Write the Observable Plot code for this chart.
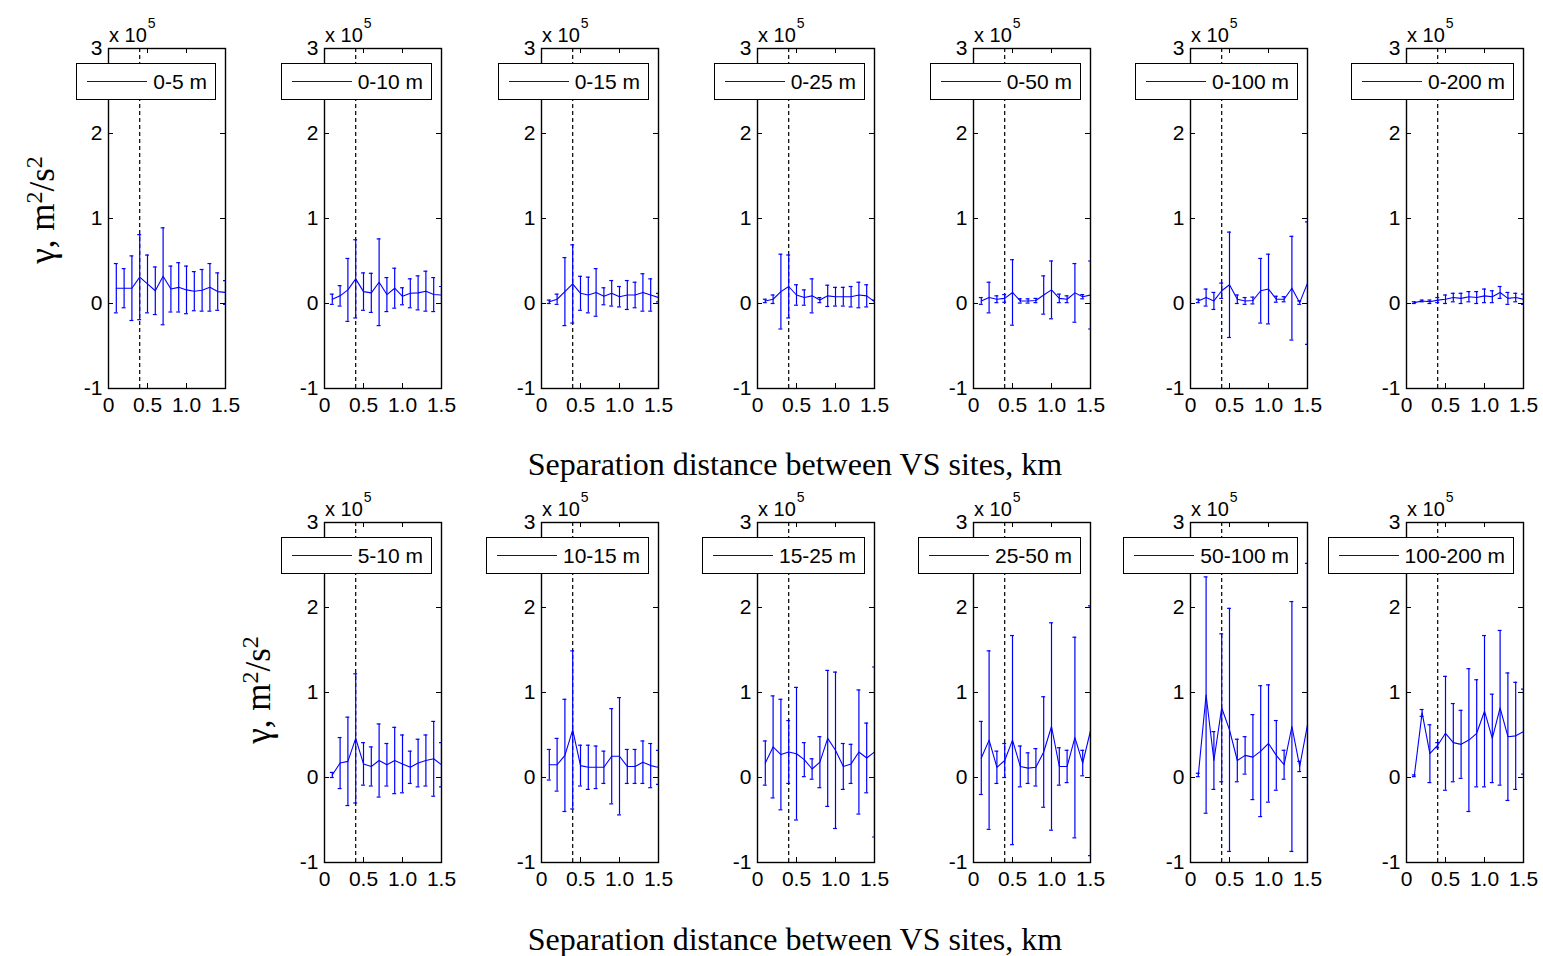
<!DOCTYPE html>
<html>
<head>
<meta charset="utf-8">
<script src="https://cdn.jsdelivr.net/npm/d3@7"></script>
<script src="https://cdn.jsdelivr.net/npm/@observablehq/plot@0.6"></script>
<style>
  body { margin: 0; background: #fff; }
  #chart { position: relative; width: 1543px; height: 956px; overflow: hidden; background: #fff;
           font-family: "Liberation Sans", Arial, sans-serif; color: #000; }
  .panel { position: absolute; }
  .legend { position: absolute; box-sizing: border-box; height: 37px; display: flex; align-items: center;
            background: #fff; border: 1.5px solid #000; padding: 0 8px 0 10px; font-size: 21px; white-space: nowrap; }
  .legend .swatch { display: inline-block; width: 60px; height: 0; border-top: 1.5px solid #0000ff; margin-right: 6px; }
  .exp { position: absolute; font-size: 20px; line-height: 1; white-space: nowrap; }
  .exp sup { font-size: 14px; position: relative; top: -6px; margin-left: 1px; }
  .ytitle { position: absolute; font-family: "Liberation Serif", "Times New Roman", serif; font-size: 35px;
            white-space: nowrap; transform: translate(-50%, -50%) rotate(-90deg); }
  .ytitle sup { font-size: 24px; }
  .xtitle { position: absolute; font-family: "Liberation Serif", "Times New Roman", serif; font-size: 32px;
            white-space: nowrap; transform: translate(-50%, -50%); }
</style>
</head>
<body>
<div id="chart"></div>
<script>
// Separation distances (km) at which the semivariogram is evaluated
const separationKm = [0.1, 0.2, 0.3, 0.4, 0.5, 0.6, 0.7, 0.8, 0.9, 1.0, 1.1, 1.2, 1.3, 1.4, 1.5];
const xTicks = [0, 0.5, 1.0, 1.5];
const yTicks = [-1, 0, 1, 2, 3];
const markerKm = 0.4; // reference separation shown as a dashed line

// Depth-range labels
const topRanges = ["0-5 m", "0-10 m", "0-15 m", "0-25 m", "0-50 m", "0-100 m", "0-200 m"];
const bottomRanges = ["5-10 m", "10-15 m", "15-25 m", "25-50 m", "50-100 m", "100-200 m"];

// Mean semivariance (x 10^5 m^2/s^2) and error-bar half widths per depth range
const gamma_0_5   = [0.18, 0.18, 0.18, 0.31, 0.23, 0.15, 0.32, 0.17, 0.19, 0.16, 0.145, 0.155, 0.19, 0.14, 0.13];
const err_0_5     = [0.29, 0.23, 0.38, 0.50, 0.34, 0.28, 0.57, 0.27, 0.29, 0.28, 0.23, 0.245, 0.28, 0.22, 0.14];
const gamma_0_10  = [0.05, 0.09, 0.16, 0.29, 0.14, 0.125, 0.25, 0.105, 0.18, 0.085, 0.12, 0.125, 0.145, 0.105, 0.10];
const err_0_10    = [0.06, 0.12, 0.37, 0.46, 0.22, 0.23, 0.51, 0.20, 0.235, 0.10, 0.17, 0.20, 0.235, 0.20, 0.10];
const gamma_0_15  = [0.02, 0.05, 0.14, 0.23, 0.12, 0.10, 0.13, 0.085, 0.12, 0.08, 0.10, 0.10, 0.13, 0.10, 0.07];
const err_0_15    = [0.02, 0.06, 0.40, 0.46, 0.20, 0.21, 0.28, 0.10, 0.15, 0.12, 0.17, 0.15, 0.22, 0.19, 0.05];
const gamma_0_25  = [0.03, 0.05, 0.14, 0.20, 0.10, 0.07, 0.09, 0.04, 0.09, 0.08, 0.08, 0.08, 0.10, 0.09, 0.02];
const err_0_25    = [0.02, 0.05, 0.44, 0.37, 0.12, 0.09, 0.20, 0.03, 0.125, 0.11, 0.11, 0.12, 0.15, 0.13, 0.02];
const gamma_0_50  = [0.03, 0.07, 0.05, 0.06, 0.13, 0.03, 0.03, 0.035, 0.10, 0.16, 0.06, 0.05, 0.125, 0.08, 0.10];
const err_0_50    = [0.04, 0.18, 0.04, 0.045, 0.385, 0.025, 0.025, 0.025, 0.225, 0.34, 0.05, 0.04, 0.345, 0.025, 0.40];
const gamma_0_100 = [0.03, 0.07, 0.03, 0.15, 0.22, 0.05, 0.03, 0.035, 0.15, 0.17, 0.05, 0.05, 0.18, 0.01, 0.24];
const err_0_100   = [0.02, 0.10, 0.10, 0.09, 0.62, 0.05, 0.04, 0.04, 0.38, 0.41, 0.035, 0.03, 0.61, 0.02, 0.72];
const gamma_0_200 = [0.01, 0.03, 0.02, 0.04, 0.05, 0.07, 0.06, 0.08, 0.07, 0.09, 0.08, 0.13, 0.06, 0.07, 0.05];
const err_0_200   = [0.01, 0.01, 0.02, 0.03, 0.05, 0.05, 0.06, 0.06, 0.07, 0.08, 0.07, 0.07, 0.07, 0.05, 0.06];

const gamma_5_10    = [0.03, 0.17, 0.19, 0.46, 0.16, 0.13, 0.20, 0.15, 0.20, 0.16, 0.12, 0.17, 0.20, 0.22, 0.15];
const err_5_10      = [0.03, 0.30, 0.52, 0.76, 0.25, 0.23, 0.43, 0.25, 0.39, 0.34, 0.19, 0.28, 0.30, 0.44, 0.26];
const gamma_10_15   = [0.15, 0.15, 0.26, 0.56, 0.14, 0.12, 0.12, 0.12, 0.25, 0.25, 0.13, 0.13, 0.18, 0.14, 0.12];
const err_10_15     = [0.18, 0.31, 0.66, 0.93, 0.24, 0.26, 0.25, 0.19, 0.56, 0.69, 0.20, 0.20, 0.25, 0.26, 0.20];
const gamma_15_25   = [0.17, 0.36, 0.27, 0.30, 0.28, 0.21, 0.10, 0.18, 0.46, 0.32, 0.13, 0.16, 0.30, 0.23, 0.30];
const err_15_25     = [0.26, 0.60, 0.65, 0.37, 0.78, 0.20, 0.12, 0.30, 0.80, 0.92, 0.27, 0.23, 0.73, 0.41, 1.00];
const gamma_25_50   = [0.23, 0.44, 0.12, 0.20, 0.44, 0.13, 0.11, 0.12, 0.30, 0.60, 0.13, 0.13, 0.47, 0.17, 0.55];
const err_25_50     = [0.43, 1.05, 0.19, 0.20, 1.23, 0.24, 0.18, 0.22, 0.65, 1.22, 0.22, 0.19, 1.18, 0.15, 1.47];
const gamma_50_100  = [0.03, 0.97, 0.20, 0.82, 0.56, 0.20, 0.26, 0.24, 0.31, 0.40, 0.26, 0.15, 0.60, 0.13, 0.62];
const err_50_100    = [0.02, 1.39, 0.34, 0.87, 1.43, 0.25, 0.22, 0.50, 0.77, 0.69, 0.41, 0.17, 1.47, 0.06, 1.90];
const gamma_100_200 = [0.02, 0.76, 0.28, 0.38, 0.52, 0.41, 0.39, 0.44, 0.52, 0.78, 0.46, 0.82, 0.48, 0.49, 0.54];
const err_100_200   = [0.01, 0.04, 0.34, 0.03, 0.67, 0.46, 0.40, 0.84, 0.63, 0.89, 0.52, 0.91, 0.75, 0.63, 0.50];

const topSeries = [
  [gamma_0_5, err_0_5], [gamma_0_10, err_0_10], [gamma_0_15, err_0_15], [gamma_0_25, err_0_25],
  [gamma_0_50, err_0_50], [gamma_0_100, err_0_100], [gamma_0_200, err_0_200]
];
const bottomSeries = [
  [gamma_5_10, err_5_10], [gamma_10_15, err_10_15], [gamma_15_25, err_15_25],
  [gamma_25_50, err_25_50], [gamma_50_100, err_50_100], [gamma_100_200, err_100_200]
];

// Layout
const chart = document.getElementById("chart");
const frameW = 117, frameH = 340;
const ML = 45, MR = 8, MT = 10, MB = 36;
const colLeft = i => Math.round(108 + 216.3 * i);
const rowTop = [48, 522];
const blue = "#0000ff";
const cap = 0.025; // error-bar cap half width, km

function addPanel(label, mean, err, frameLeft, frameTop) {
  const rows = separationKm.map((d, i) => ({ d, g: mean[i], lo: mean[i] - err[i], hi: mean[i] + err[i] }));
  const svg = Plot.plot({
    width: frameW + ML + MR,
    height: frameH + MT + MB,
    marginLeft: ML, marginRight: MR, marginTop: MT, marginBottom: MB,
    style: { fontFamily: "'Liberation Sans', Arial, sans-serif", fontSize: "21px", color: "#000", background: "transparent", overflow: "visible" },
    x: { domain: [0, 1.5], ticks: xTicks, tickSize: 0, tickPadding: 9, label: null,
         tickFormat: d => d === 0 ? "0" : d.toFixed(1) },
    y: { domain: [-1, 3], ticks: yTicks, tickSize: 0, tickPadding: 6, label: null, tickFormat: d => String(d) },
    marks: [
      Plot.ruleX([markerKm], { stroke: "#000", strokeWidth: 1.2, strokeDasharray: "4,3" }),
      Plot.ruleX(rows, { x: "d", y1: "lo", y2: "hi", stroke: blue, strokeWidth: 1.2, clip: true }),
      Plot.ruleY(rows, { y: "lo", x1: r => r.d - cap, x2: r => r.d + cap, stroke: blue, strokeWidth: 1.2, clip: true }),
      Plot.ruleY(rows, { y: "hi", x1: r => r.d - cap, x2: r => r.d + cap, stroke: blue, strokeWidth: 1.2, clip: true }),
      Plot.line(rows, { x: "d", y: "g", stroke: blue, strokeWidth: 1.1, clip: true }),
      // inward tick marks on all four sides
      Plot.tickY(yTicks, { stroke: "#000", insetRight: frameW - 5 }),
      Plot.tickY(yTicks, { stroke: "#000", insetLeft: frameW - 5 }),
      Plot.tickX(xTicks, { stroke: "#000", insetTop: frameH - 5 }),
      Plot.tickX(xTicks, { stroke: "#000", insetBottom: frameH - 5 }),
      Plot.frame({ stroke: "#000", strokeWidth: 1.4 })
    ]
  });
  const wrap = document.createElement("div");
  wrap.className = "panel";
  wrap.style.left = (frameLeft - ML) + "px";
  wrap.style.top = (frameTop - MT) + "px";
  wrap.appendChild(svg);
  chart.appendChild(wrap);

  const exp = document.createElement("div");
  exp.className = "exp";
  exp.style.left = (frameLeft + 1) + "px";
  exp.style.top = (frameTop - 26) + "px";
  exp.innerHTML = "x 10<sup>5</sup>";
  chart.appendChild(exp);

  const lg = document.createElement("div");
  lg.className = "legend";
  lg.style.right = (1543 - (frameLeft + frameW - 9)) + "px";
  lg.style.top = (frameTop + 15) + "px";
  lg.innerHTML = '<span class="swatch"></span><span>' + label + "</span>";
  chart.appendChild(lg);
}

topRanges.forEach((label, i) => addPanel(label, topSeries[i][0], topSeries[i][1], colLeft(i), rowTop[0]));
bottomRanges.forEach((label, i) => addPanel(label, bottomSeries[i][0], bottomSeries[i][1], colLeft(i + 1), rowTop[1]));

// Axis titles
function addText(cls, html, x, y) {
  const el = document.createElement("div");
  el.className = cls;
  el.style.left = x + "px";
  el.style.top = y + "px";
  el.innerHTML = html;
  chart.appendChild(el);
}
const yTitle = "&gamma;, m<sup>2</sup>/s<sup>2</sup>";
const xTitle = "Separation distance between VS sites, km";
addText("ytitle", yTitle, 42, 210);
addText("ytitle", yTitle, 258, 690);
addText("xtitle", xTitle, 795, 464);
addText("xtitle", xTitle, 795, 939);
</script>
</body>
</html>
